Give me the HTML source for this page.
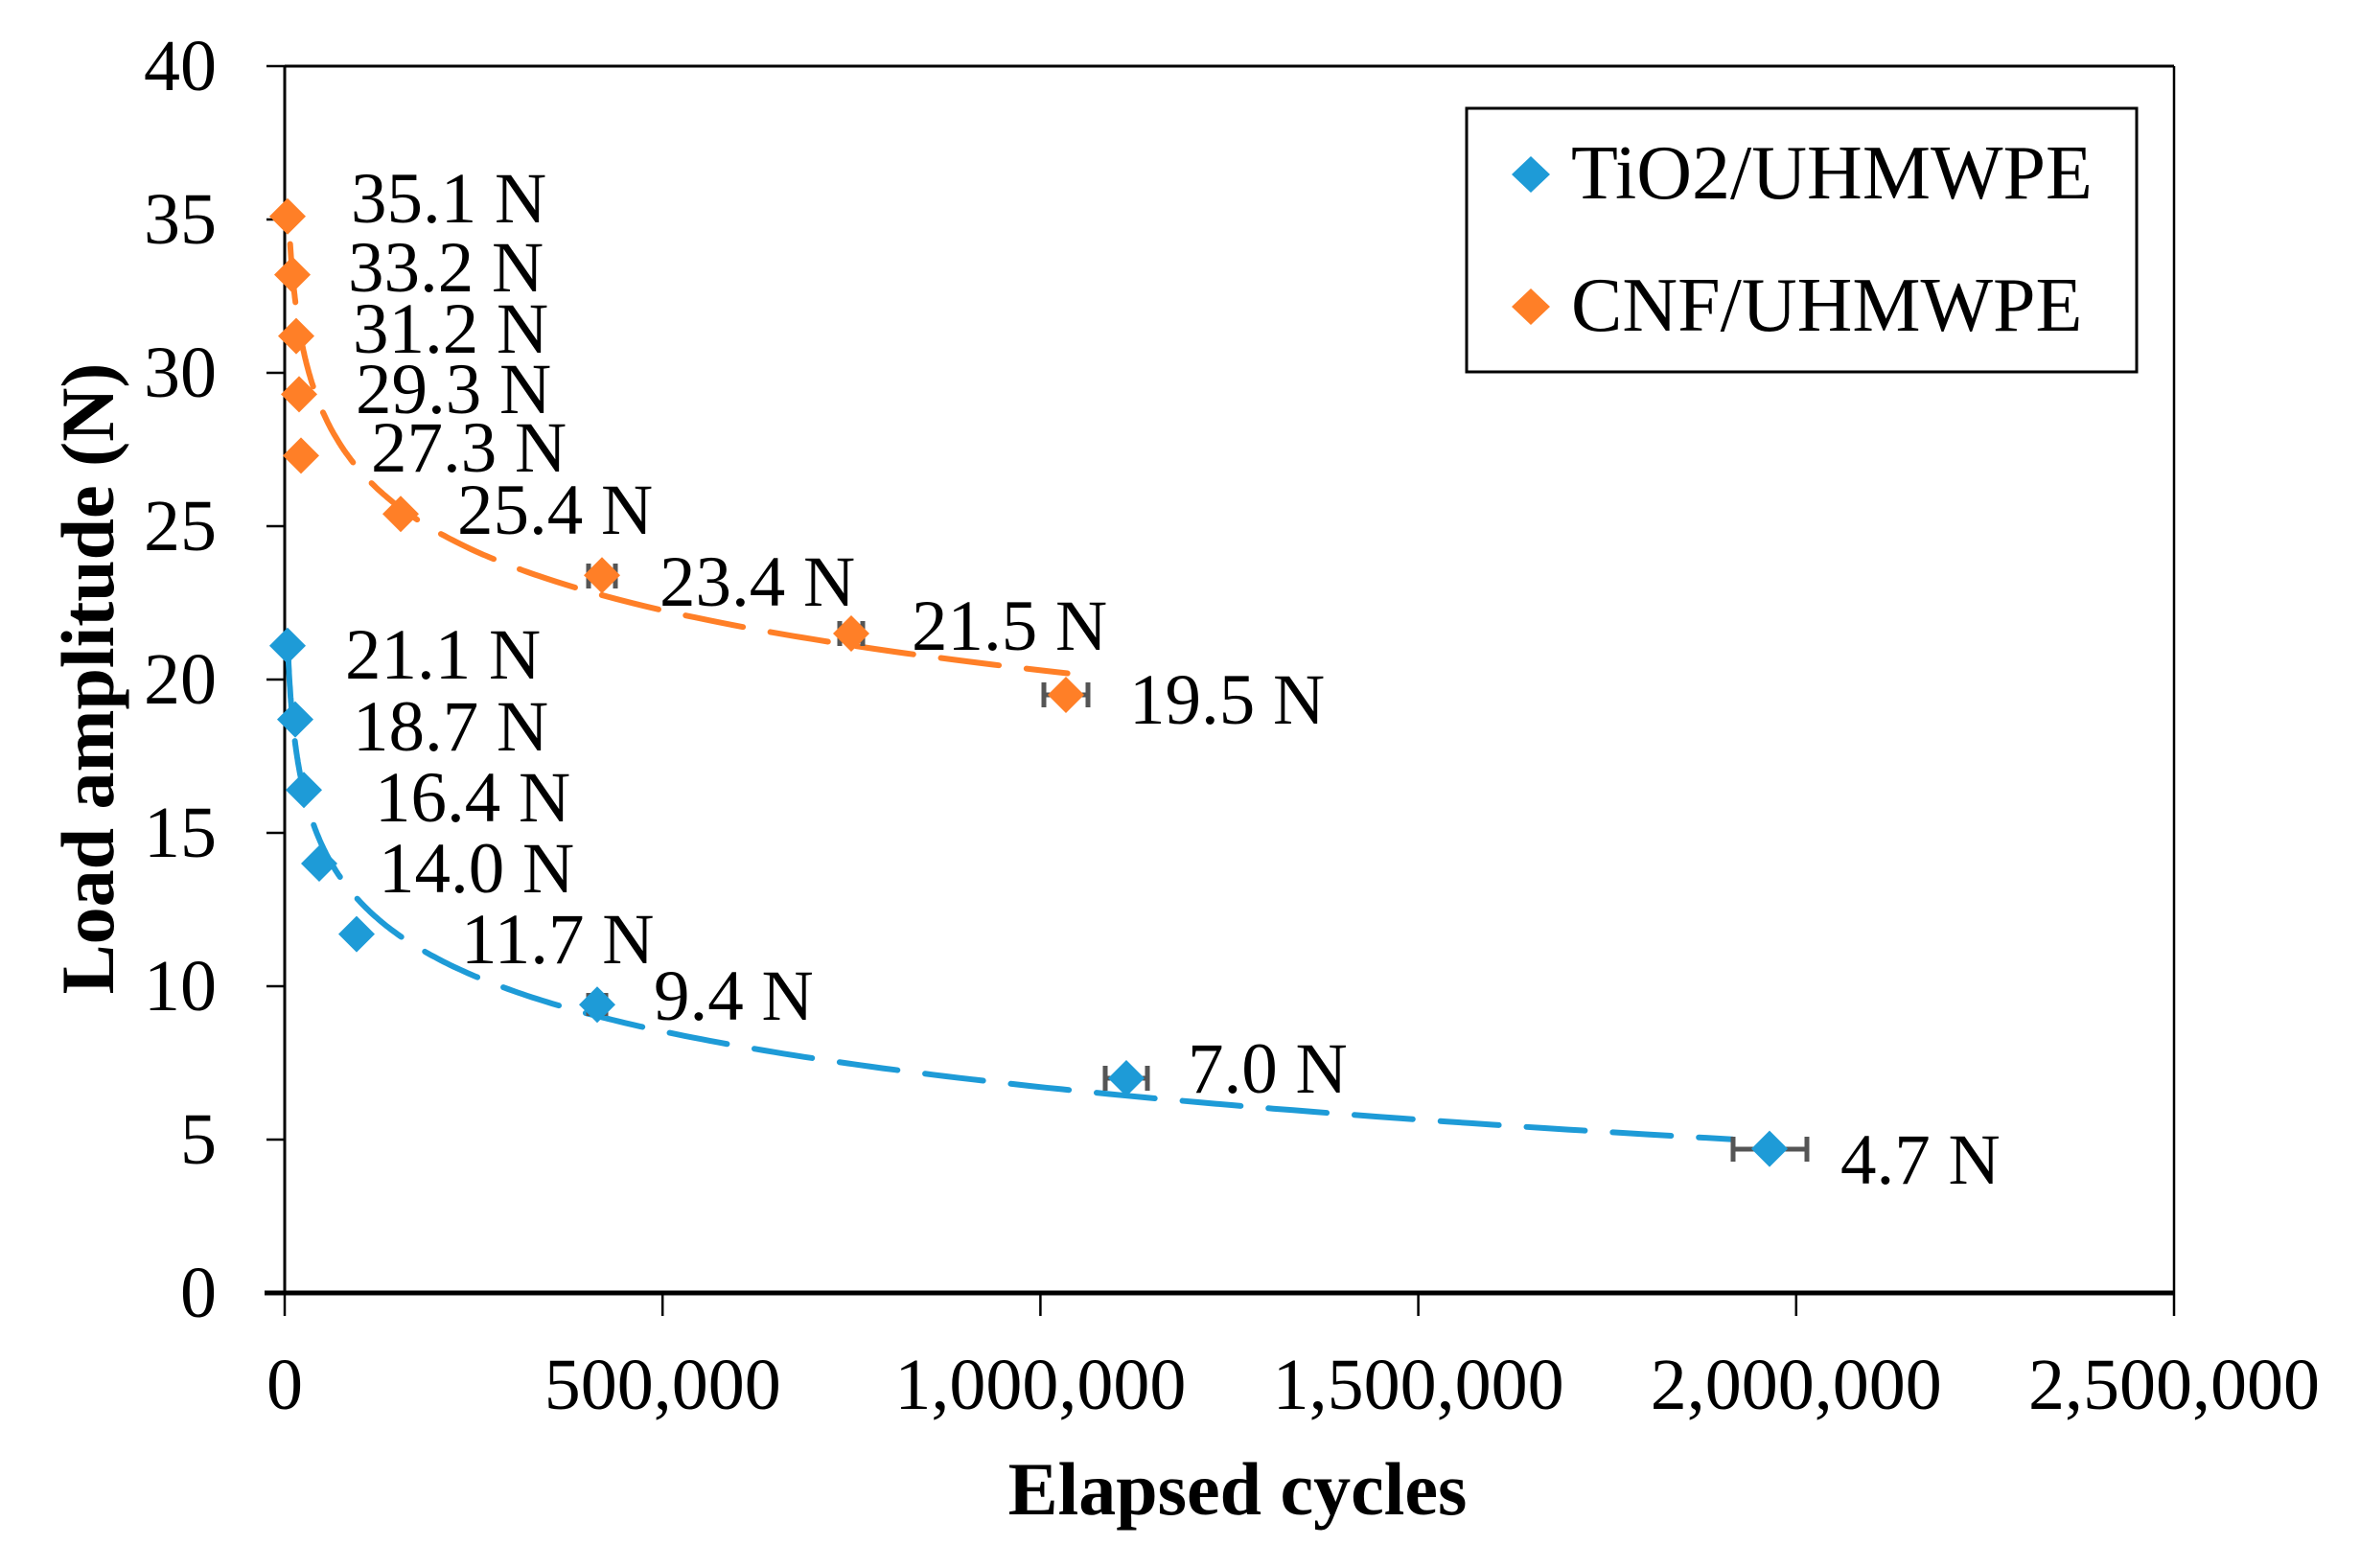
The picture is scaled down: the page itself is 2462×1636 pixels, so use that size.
<!DOCTYPE html>
<html><head><meta charset="utf-8"><style>
html,body{margin:0;padding:0;background:#fff;}
svg{display:block;}
text{font-family:"Liberation Serif",serif;fill:#000;}
</style></head><body>
<svg id="s" width="2462" height="1636" viewBox="0 0 2462 1636" xmlns="http://www.w3.org/2000/svg">
<rect width="2462" height="1636" fill="#fff"/>
<line x1="297" y1="69" x2="2268" y2="69" stroke="#000" stroke-width="3"/>
<line x1="2268" y1="69" x2="2268" y2="1349" stroke="#000" stroke-width="2.5"/>
<line x1="297" y1="69" x2="297" y2="1349" stroke="#000" stroke-width="3"/>
<line x1="276" y1="1349" x2="2268" y2="1349" stroke="#000" stroke-width="5"/>
<g stroke="#000" stroke-width="2.5">
<line x1="278" y1="69" x2="297" y2="69"/><line x1="278" y1="229" x2="297" y2="229"/>
<line x1="278" y1="389" x2="297" y2="389"/><line x1="278" y1="549" x2="297" y2="549"/>
<line x1="278" y1="709" x2="297" y2="709"/><line x1="278" y1="869" x2="297" y2="869"/>
<line x1="278" y1="1029" x2="297" y2="1029"/><line x1="278" y1="1189" x2="297" y2="1189"/>
<line x1="297" y1="1349" x2="297" y2="1373"/><line x1="691.2" y1="1349" x2="691.2" y2="1373"/>
<line x1="1085.4" y1="1349" x2="1085.4" y2="1373"/><line x1="1479.6" y1="1349" x2="1479.6" y2="1373"/>
<line x1="1873.8" y1="1349" x2="1873.8" y2="1373"/><line x1="2268" y1="1349" x2="2268" y2="1373"/>
</g>
<g font-size="76" text-anchor="end" dominant-baseline="central">
<text x="226" y="69">40</text><text x="226" y="229">35</text><text x="226" y="389">30</text>
<text x="226" y="549">25</text><text x="226" y="709">20</text><text x="226" y="869">15</text>
<text x="226" y="1029">10</text><text x="226" y="1189">5</text><text x="226" y="1349">0</text>
</g>
<g font-size="76" text-anchor="middle">
<text x="297" y="1470">0</text><text x="691.2" y="1470">500,000</text><text x="1085.4" y="1470">1,000,000</text>
<text x="1479.6" y="1470">1,500,000</text><text x="1873.8" y="1470">2,000,000</text><text x="2268" y="1470">2,500,000</text>
</g>
<text x="1291" y="1580" font-size="78" font-weight="bold" text-anchor="middle">Elapsed cycles</text>
<text transform="translate(118,708) rotate(-90)" font-size="78" font-weight="bold" text-anchor="middle">Load amplitude (N)</text>
<path id="po" fill="none" stroke="#FF7F27" stroke-width="6" stroke-dasharray="61,29" stroke-linecap="round"/>
<path id="pb" fill="none" stroke="#1E9BD7" stroke-width="6" stroke-dasharray="61,29" stroke-linecap="round"/>
<g stroke="#555" stroke-width="5" fill="none">
<path d="M614 601H642M614 588V614M642 588V614"/>
<path d="M876 661H900M876 648V674M900 648V674"/>
<path d="M1089 725H1135M1089 712V738M1135 712V738"/>
<path d="M614 1048H632M614 1036V1060M632 1036V1060"/>
<path d="M1153 1125H1197M1153 1112V1138M1197 1112V1138"/>
<path d="M1808 1199H1885M1808 1186V1212M1885 1186V1212"/>
</g>
<g id="mk"></g>
<g font-size="75" id="lb"></g>
<rect x="1530" y="113" width="699" height="275" fill="none" stroke="#000" stroke-width="3"/>
<path d="M1597 163L1617 182L1597 201L1577 182Z" fill="#1E9BD7"/>
<path d="M1597 301L1617 320L1597 339L1577 320Z" fill="#FF7F27"/>
<text x="1639" y="207" font-size="80">TiO2/UHMWPE</text>
<text x="1639" y="345" font-size="80">CNF/UHMWPE</text>
</svg>
<script>
function X(c){return 297+c*396.4/500000;}
function Y(v){return 1349-32*v;}
function curve(a,b,c0,ref,c1){var d="";for(var i=0;i<=300;i++){var c=c0*Math.pow(c1/c0,i/300);var v=a-b*Math.log(c/ref);d+=(i?"L":"M")+X(c).toFixed(1)+" "+Y(v).toFixed(1);}return d;}
document.getElementById("po").setAttribute("d",curve(25.6,2.82,7200,152000,1030000));
document.getElementById("pb").setAttribute("d",curve(9.1,2.62,4600,400000,1905000));
var pts=[["#FF7F27",300,35.1,366,228],["#FF7F27",305,33.2,363,300],["#FF7F27",309,31.2,368,364],["#FF7F27",312,29.3,371,427],["#FF7F27",314,27.3,387,488],["#FF7F27",418,25.4,477,553],["#FF7F27",628,23.4,688,628],["#FF7F27",888,21.5,951,674],["#FF7F27",1112,19.5,1178,751],
["#1E9BD7",300,21.1,360,704],["#1E9BD7",308,18.7,368,779],["#1E9BD7",317,16.4,391,853],["#1E9BD7",333,14.0,395,927],["#1E9BD7",372,11.7,481,1001],["#1E9BD7",623,9.4,682,1060],["#1E9BD7",1175,7.0,1239,1136],["#1E9BD7",1846,4.7,1920,1231]];
var mk="",lb="";
pts.forEach(function(p){var x=p[1],y=Y(p[2]);mk+='<path d="M'+x+' '+(y-19)+'L'+(x+19)+' '+y+'L'+x+' '+(y+19)+'L'+(x-19)+' '+y+'Z" fill="'+p[0]+'"/>';lb+='<text x="'+p[3]+'" y="'+(p[4]+4)+'">'+p[2].toFixed(1)+' N</text>';});
document.getElementById("mk").innerHTML=mk;document.getElementById("lb").innerHTML=lb;
</script>
</body></html>
